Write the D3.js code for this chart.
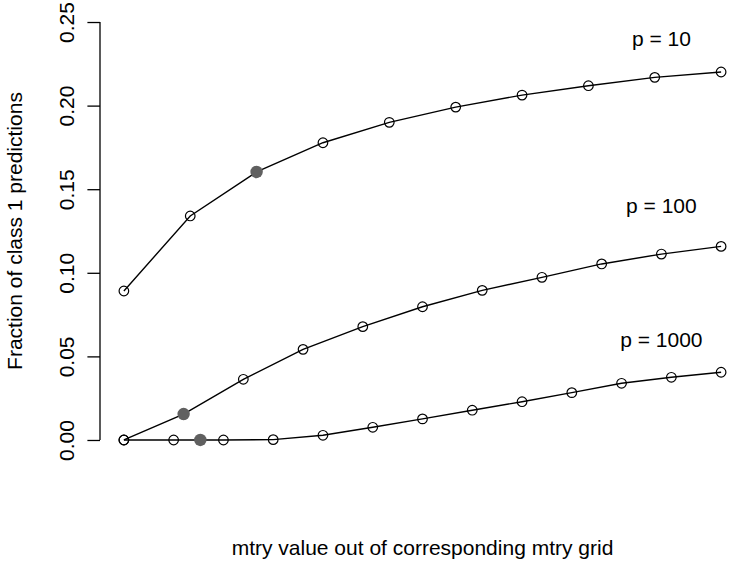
<!DOCTYPE html>
<html>
<head>
<meta charset="utf-8">
<script src="https://cdn.jsdelivr.net/npm/d3@7"></script>
<style>
    body { margin: 0; background: #fff; }
    text { font-family: "Liberation Sans", Arial, sans-serif; font-size: 21px; fill: #000; }
</style>
</head>
<body>
<svg id="chart"></svg>
<script>
// grid position of each mtry value, as a fraction of its grid
const xs10 = [0, 0.1111, 0.2222, 0.3333, 0.4444, 0.5556, 0.6667, 0.7778, 0.8889, 1];
const xs100 = [0, 0.1, 0.2, 0.3, 0.4, 0.5, 0.6, 0.7, 0.8, 0.9, 1];
const xs1000 = [0, 0.0833, 0.1667, 0.25, 0.3333, 0.4167, 0.5, 0.5833, 0.6667, 0.75, 0.8333, 0.9167, 1];

// fraction of class 1 predictions
const frac10 = [0.0891, 0.134, 0.1603, 0.1778, 0.190, 0.1991, 0.2063, 0.2119, 0.2169, 0.2201];
const frac100 = [0, 0.0155, 0.0363, 0.0542, 0.0678, 0.0797, 0.0895, 0.0973, 0.1053, 0.1112, 0.1158];
const frac1000 = [0, 0, 0, 0.0002, 0.0028, 0.0076, 0.0126, 0.0178, 0.0229, 0.0283, 0.0339, 0.0375, 0.0405];

// default mtry (filled points)
const defaultX = [0.2222, 0.1, 0.128];
const defaultY = [0.1603, 0.0155, 0];

const labels = ["p = 10", "p = 100", "p = 1000"];
const labelX = [0.9, 0.9, 0.9];
const labelY = [0.24, 0.14, 0.06];

const yTicks = [0, 0.05, 0.10, 0.15, 0.20, 0.25];

/** ---------------------------------------------------------------- */

const width = 730;
const height = 563;

const svg = d3.select("#chart")
    .attr("width", width)
    .attr("height", height);

// plot region like R: data range plus 4% on each side
const x = d3.scaleLinear()
    .domain([-0.04, 1.04])
    .range([100, 745]);

const y = d3.scaleLinear()
    .domain([-0.01, 0.26])
    .range([456.7, 5.3]);

// y axis
const yAxis = svg.append("g")
    .attr("transform", "translate(100,0)")
    .call(d3.axisLeft(y)
        .tickValues(yTicks)
        .tickSize(12.6)
        .tickFormat(d3.format(".2f")));

yAxis.select(".domain").remove();
yAxis.selectAll(".tick line")
    .attr("stroke", "#000")
    .attr("stroke-width", 1.3);
yAxis.selectAll(".tick text")
    .attr("x", 0)
    .attr("y", -26)
    .attr("dy", null)
    .attr("text-anchor", "middle")
    .attr("transform", "rotate(-90)")
    .style("font-size", "21px")
    .style("font-family", "\"Liberation Sans\", Arial, sans-serif");

svg.append("line")
    .attr("x1", 100).attr("x2", 100)
    .attr("y1", y(yTicks[0]))
    .attr("y2", y(yTicks[yTicks.length - 1]))
    .attr("stroke", "#000")
    .attr("stroke-width", 1.3);

// axis titles
svg.append("text")
    .attr("transform", `translate(22,${(y.range()[0] + y.range()[1]) / 2}) rotate(-90)`)
    .attr("text-anchor", "middle")
    .text("Fraction of class 1 predictions");

svg.append("text")
    .attr("x", (x.range()[0] + x.range()[1]) / 2)
    .attr("y", 555)
    .attr("text-anchor", "middle")
    .text("mtry value out of corresponding mtry grid");

// series
const series = [
    xs10.map((v, i) => [v, frac10[i]]),
    xs100.map((v, i) => [v, frac100[i]]),
    xs1000.map((v, i) => [v, frac1000[i]])
];

const line = d3.line()
    .x(d => x(d[0]))
    .y(d => y(d[1]));

series.forEach(data => {
    svg.append("path")
        .attr("d", line(data))
        .attr("fill", "none")
        .attr("stroke", "#000")
        .attr("stroke-width", 1.4);

    svg.append("g")
        .selectAll("circle")
        .data(data)
        .join("circle")
        .attr("cx", d => x(d[0]))
        .attr("cy", d => y(d[1]))
        .attr("r", 4.8)
        .attr("fill", "none")
        .attr("stroke", "#000")
        .attr("stroke-width", 1.2);
});

svg.append("g")
    .selectAll("circle")
    .data(defaultX)
    .join("circle")
    .attr("cx", d => x(d))
    .attr("cy", (d, i) => y(defaultY[i]))
    .attr("r", 6.2)
    .attr("fill", "#606060");

svg.append("g")
    .selectAll("text")
    .data(labels)
    .join("text")
    .attr("x", (d, i) => x(labelX[i]))
    .attr("y", (d, i) => y(labelY[i]))
    .attr("dy", "0.36em")
    .attr("text-anchor", "middle")
    .text(d => d);
</script>
</body>
</html>
